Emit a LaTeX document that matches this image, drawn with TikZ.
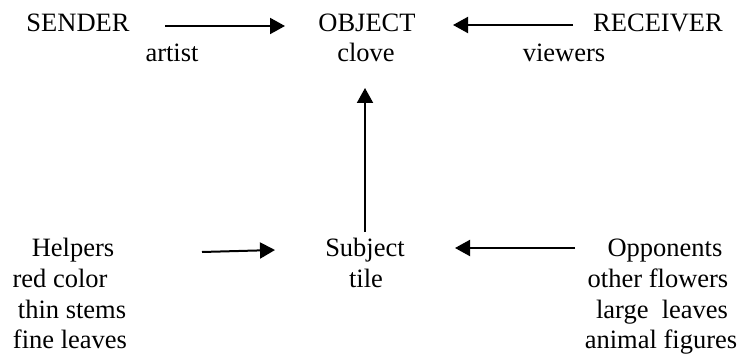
\documentclass[tikz,border=0pt]{standalone}
\usepackage{fontspec}
\setmainfont{Liberation Serif}
\usetikzlibrary{arrows.meta}
\begin{document}
\begin{tikzpicture}[x=1pt,y=-1pt,
  lbl/.style={anchor=base,inner sep=0pt,font=\fontsize{26.5}{31}\selectfont},
  arr/.style={line width=2pt,-{Triangle[length=15pt,width=16pt]}}]
\useasboundingbox[fill=white] (0,0) rectangle (741,358);
% top row
\node[lbl] (sender) at (78,32) {SENDER};
\node[lbl] (artist) at (172,62) {artist};
\node[lbl] (object) at (367,32) {OBJECT};
\node[lbl] (clove) at (366,62) {clove};
\node[lbl] (receiver) at (658,32) {RECEIVER};
\node[lbl] (viewers) at (564,62) {viewers};
% bottom left
\node[lbl] (helpers) at (73,256) {Helpers};
\node[lbl] (red) at (60,287) {red color};
\node[lbl] (thin) at (72,318) {thin stems};
\node[lbl] (fine) at (70,348) {fine leaves};
% bottom centre
\node[lbl] (subject) at (365,256) {Subject};
\node[lbl] (tile) at (366,287) {tile};
% bottom right
\node[lbl] (opp) at (665,256) {Opponents};
\node[lbl] (other) at (658,287) {other flowers};
\node[lbl] (large) at (662,318) {large\ \ leaves};
\node[lbl] (animal) at (661,348) {animal figures};
% arrow ends
\coordinate (a1s) at (165,26); \coordinate (a1e) at (285,26);
\coordinate (a2s) at (573,25); \coordinate (a2e) at (453,25);
\coordinate (a3s) at (202,252); \coordinate (a3e) at (275,250);
\coordinate (a4s) at (575,248); \coordinate (a4e) at (455,248);
\coordinate (a5s) at (365,232); \coordinate (a5e) at (365,88);
\draw[arr] (a1s) -- (a1e);
\draw[arr] (a2s) -- (a2e);
\draw[arr] (a3s) -- (a3e);
\draw[arr] (a4s) -- (a4e);
\draw[arr] (a5s) -- (a5e);
\end{tikzpicture}
\end{document}
